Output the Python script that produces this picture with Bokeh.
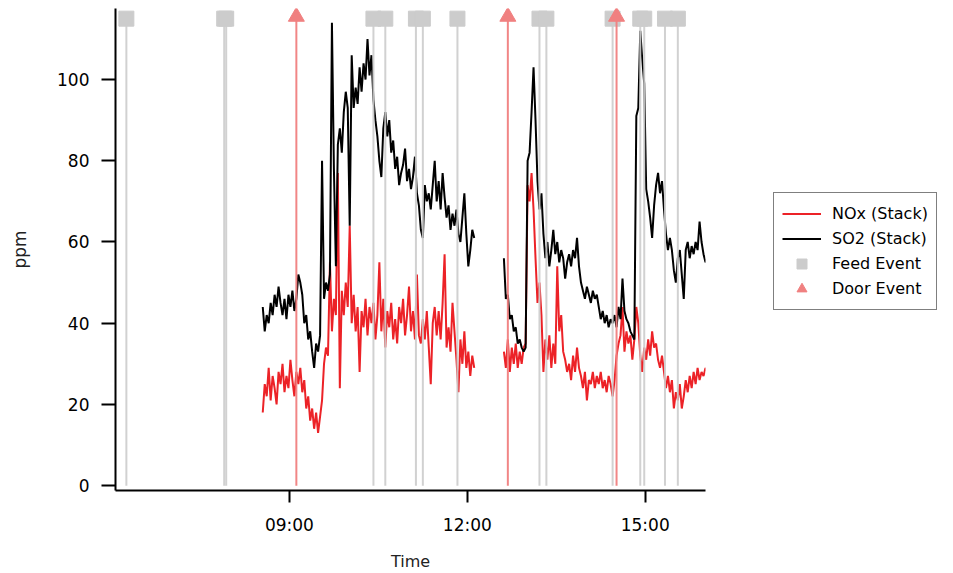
import numpy as np
import pandas as pd
from bokeh.plotting import figure
from bokeh.models import (Range1d, FixedTicker, DatetimeTickFormatter, Legend,
                          LegendItem, ColumnDataSource)
from bokeh.embed import file_html
from bokeh.resources import INLINE

# ---------------- data ----------------
DAY = "2020-01-01 "
seg1_start = "08:33"
seg2_start = "12:37"
step = "2min"

so2_seg1 = [44, 38, 42, 40, 45, 42, 47, 44, 49, 45,
            42, 46, 41, 47, 44, 48, 43, 46, 52, 50,
            47, 40, 42, 36, 38, 33, 29, 35, 33, 37,
            80, 46, 50, 48, 52, 114, 78, 54, 84, 88,
            82, 92, 97, 93, 64, 106, 93, 98, 94, 103,
            97, 104, 100, 110, 101, 106, 95, 90, 86, 80,
            76, 88, 92, 86, 90, 82, 85, 78, 81, 74,
            77, 79, 83, 75, 78, 73, 76, 81, 72, 69,
            63, 61, 74, 70, 72, 68, 74, 80, 70, 75,
            68, 77, 71, 66, 69, 63, 67, 64, 68, 62,
            60, 66, 72, 62, 54, 58, 63, 61]
nox_seg1 = [18, 25, 22, 29, 21, 27, 24, 20, 28, 25,
            30, 23, 27, 24, 31, 26, 22, 28, 25, 29,
            23, 26, 19, 22, 16, 19, 14, 18, 13, 17,
            21, 30, 34, 32, 55, 38, 46, 42, 77, 24,
            48, 42, 50, 44, 64, 40, 47, 38, 44, 28,
            43, 39, 46, 37, 44, 40, 45, 36, 42, 55,
            38, 46, 34, 43, 39, 45, 36, 41, 35, 44,
            40, 46, 37, 42, 49, 38, 43, 36, 52, 37,
            35, 41, 36, 43, 34, 25, 40, 44, 37, 43,
            36, 45, 57, 34, 39, 33, 45, 38, 31, 23,
            36, 30, 38, 29, 33, 27, 32, 29]
so2_seg2 = [56, 46, 47, 41, 42, 38, 39, 35, 36, 34,
            33, 34, 80, 82, 92, 103, 90, 75, 68, 72,
            62, 56, 60, 54, 58, 63, 57, 60, 55, 58,
            56, 51, 55, 57, 54, 58, 56, 61, 54, 50,
            48, 46, 49, 47, 45, 48, 46, 47, 44, 41,
            43, 40, 42, 39, 41, 40, 42, 39, 44, 41,
            51, 43, 41, 40, 38, 37, 36, 91, 93, 112,
            105, 99, 73, 70, 66, 61, 69, 74, 77, 72,
            75, 68, 62, 58, 61, 58, 53, 50, 56, 58,
            52, 46, 58, 60, 56, 59, 57, 60, 58, 65,
            60, 57, 55, 56]
nox_seg2 = [33, 29, 36, 28, 34, 30, 35, 29, 33, 30,
            34, 35, 74, 70, 77, 68, 56, 45, 50, 42,
            28, 36, 31, 37, 29, 35, 30, 54, 38, 42,
            33, 31, 28, 30, 26, 32, 28, 34, 29, 27,
            24, 28, 21, 26, 25, 28, 24, 27, 25, 28,
            24, 26, 23, 27, 25, 22, 26, 32, 35, 37,
            44, 33, 38, 35, 37, 31, 36, 44, 40, 32,
            28, 34, 31, 36, 32, 38, 34, 35, 31, 29,
            32, 28, 24, 27, 23, 26, 19, 23, 21, 25,
            19, 22, 26, 23, 27, 24, 28, 25, 29, 26,
            28, 27, 29, 28]

feed_events = ["06:15", "07:54", "07:56", "10:25", "10:37", "11:08", "11:15",
               "11:50", "13:13", "13:20", "14:27", "14:55", "14:59", "15:20", "15:33"]
door_events = ["09:07", "12:41", "14:31"]
marker_level = 115

x_ticks = ["09:00", "12:00", "15:00"]
y_ticks = [0, 20, 40, 60, 80, 100]
x_window = ["06:04", "16:01"]
y_window = [-1.2, 117.5]


def ms(hhmm):
    return pd.Timestamp(DAY + hhmm).value / 1e6


t1 = pd.date_range(DAY + seg1_start, periods=len(so2_seg1), freq=step)
t2 = pd.date_range(DAY + seg2_start, periods=len(so2_seg2), freq=step)
times = [t.value / 1e6 for t in t1] + [t1[-1].value / 1e6 + 60000] + [t.value / 1e6 for t in t2]
so2 = list(map(float, so2_seg1)) + [np.nan] + list(map(float, so2_seg2))
nox = list(map(float, nox_seg1)) + [np.nan] + list(map(float, nox_seg2))
src = ColumnDataSource(dict(t=times, so2=so2, nox=nox))

feed_ms = [ms(h) for h in feed_events]
door_ms = [ms(h) for h in door_events]

FONT = "DejaVu Sans"

p = figure(x_axis_type="datetime", output_backend="svg", toolbar_location=None,
           frame_width=590, frame_height=482,
           min_border_left=115, min_border_right=240, min_border_top=8, min_border_bottom=78,
           x_range=Range1d(ms(x_window[0]), ms(x_window[1])),
           y_range=Range1d(y_window[0], y_window[1]),
           background_fill_color="white", border_fill_color="white")
p.outline_line_color = None
p.grid.visible = False

r_nox = p.line("t", "nox", source=src, line_color="#ec2227", line_width=2)
r_so2 = p.line("t", "so2", source=src, line_color="black", line_width=2)

feed_src = ColumnDataSource(dict(x=feed_ms, y0=[0] * len(feed_ms), y1=[marker_level] * len(feed_ms)))
p.segment("x", "y0", "x", "y1", source=feed_src, line_color="#cccccc", line_width=2, line_alpha=0.9)
r_feed = p.scatter("x", "y1", source=feed_src, marker="square", size=15,
                   fill_color="#cccccc", line_color="#cccccc")

door_src = ColumnDataSource(dict(x=door_ms, y0=[0] * len(door_ms), y1=[marker_level + 0.5] * len(door_ms)))
p.segment("x", "y0", "x", "y1", source=door_src, line_color="#f08080", line_width=2, line_alpha=0.95)
r_door = p.scatter("x", "y1", source=door_src, marker="triangle", size=16,
                   fill_color="#f08080", line_color="#f08080")

# axes
for ax in (p.xaxis[0], p.yaxis[0]):
    ax.axis_line_width = 2
    ax.axis_line_color = "black"
    ax.major_tick_line_width = 2
    ax.major_tick_line_color = "black"
    ax.major_tick_in = 0
    ax.minor_tick_line_color = None
    ax.major_label_text_font = FONT
    ax.major_label_text_font_size = "17px"
    ax.major_label_text_color = "black"
    ax.axis_label_text_font = FONT
    ax.axis_label_text_font_size = "16px"
    ax.axis_label_text_font_style = "normal"
    ax.axis_label_text_color = "#222222"

p.xaxis.ticker = FixedTicker(ticks=[ms(h) for h in x_ticks])
p.xaxis.formatter = DatetimeTickFormatter(hours="%H:%M", hourmin="%H:%M", minutes="%H:%M", days="%H:%M")
p.xaxis.major_tick_out = 12
p.xaxis.major_label_standoff = 12
p.xaxis.axis_label = "Time"
p.xaxis.axis_label_standoff = 14

p.yaxis.ticker = FixedTicker(ticks=y_ticks)
p.yaxis.major_tick_out = 14
p.yaxis.major_label_standoff = 12
p.yaxis.axis_label = "ppm"
p.yaxis.axis_label_text_font_size = "17px"
p.yaxis.axis_label_standoff = 24

legend = Legend(items=[
    LegendItem(label="NOx (Stack)", renderers=[r_nox]),
    LegendItem(label="SO2 (Stack)", renderers=[r_so2]),
    LegendItem(label="Feed Event", renderers=[r_feed]),
    LegendItem(label="Door Event", renderers=[r_door]),
], location=(68, 180))
legend.border_line_color = "black"
legend.border_line_width = 1.5
legend.background_fill_color = "white"
legend.background_fill_alpha = 1
legend.label_text_font = FONT
legend.label_text_font_size = "16px"
legend.label_text_color = "black"
legend.glyph_width = 39
legend.glyph_height = 25
legend.label_height = 25
legend.spacing = 0
legend.padding = 8
legend.label_standoff = 11
legend.margin = 0
p.add_layout(legend, "right")

open("out.html", "w").write(file_html(p, INLINE))
